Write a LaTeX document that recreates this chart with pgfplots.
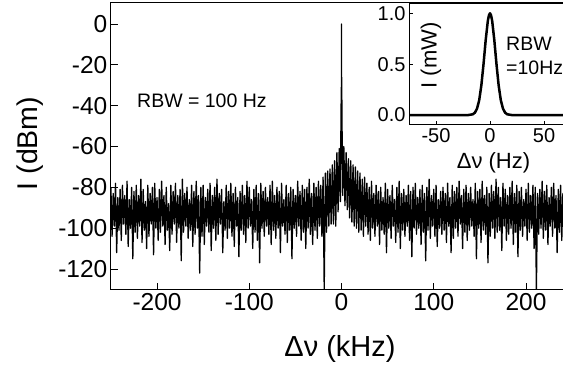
\documentclass[border=0pt]{standalone}
\usepackage{fontspec}
\setmainfont{Liberation Sans}
\usepackage{pgfplots}
\pgfplotsset{compat=1.18}
\begin{document}
\begin{tikzpicture}
\begin{axis}[
 at={(110.9pt,76pt)}, anchor=south west,
 scale only axis, width=461.25pt, height=287pt,
 xmin=-250, xmax=250, ymin=-130.3, ymax=10.3,
 xtick={-200,-100,0,100,200}, xticklabels={-200,-100,0,100,200},
 ytick={-120,-100,-80,-60,-40,-20,0}, yticklabels={-120,-100,-80,-60,-40,-20,0},
 tick align=inside, tick pos=left, major tick length=7pt,
 tick style={line width=0.8pt, black},
 axis line style={line width=1pt},
 tick label style={font=\fontsize{24.5}{29}\selectfont},
 /pgf/number format/assume math mode=true,
]
\addplot[black, line width=1.3pt, line join=round] coordinates {
(-250,-80) (-248.75,-104) (-247.5,-83) (-246.25,-99) (-245,-78) (-243.75,-112) (-242.5,-85) (-241.25,-101)
(-240,-81) (-238.75,-106) (-237.5,-79) (-236.25,-98) (-235,-84) (-233.75,-103) (-232.5,-77) (-231.25,-109)
(-230,-86) (-228.75,-100) (-227.5,-80) (-226.25,-115) (-225,-82) (-223.75,-102) (-222.5,-79) (-221.25,-105)
(-220,-84) (-218.75,-99) (-217.5,-76) (-216.25,-107) (-215,-81) (-213.75,-101) (-212.5,-87) (-211.25,-110)
(-210,-79) (-208.75,-104) (-207.5,-83) (-206.25,-98) (-205,-80) (-203.75,-113) (-202.5,-78) (-201.25,-100)
(-200,-85) (-198.75,-106) (-197.5,-81) (-196.25,-102) (-195,-77) (-193.75,-99) (-192.5,-84) (-191.25,-108)
(-190,-80) (-188.75,-101) (-187.5,-88) (-186.25,-111) (-185,-79) (-183.75,-103) (-182.5,-82) (-181.25,-98)
(-180,-78) (-178.75,-107) (-177.5,-84) (-176.25,-100) (-175,-81) (-173.75,-116) (-172.5,-76) (-171.25,-102)
(-170,-83) (-168.75,-99) (-167.5,-80) (-166.25,-105) (-165,-86) (-163.75,-101) (-162.5,-79) (-161.25,-109)
(-160,-82) (-158.75,-103) (-157.5,-77) (-156.25,-100) (-155,-84) (-153.75,-122) (-152.5,-80) (-151.25,-104)
(-150,-79) (-148.75,-108) (-147.5,-85) (-146.25,-99) (-145,-81) (-143.75,-102) (-142.5,-78) (-141.25,-111)
(-140,-84) (-138.75,-100) (-137.5,-80) (-136.25,-106) (-135,-76) (-133.75,-103) (-132.5,-83) (-131.25,-98)
(-130,-81) (-128.75,-112) (-127.5,-87) (-126.25,-101) (-125,-79) (-123.75,-105) (-122.5,-82) (-121.25,-100)
(-120,-78) (-118.75,-104) (-117.5,-83) (-116.25,-109) (-115,-80) (-113.75,-99) (-112.5,-85) (-111.25,-114)
(-110,-82) (-108.75,-101) (-107.5,-79) (-106.25,-103) (-105,-84) (-103.75,-107) (-102.5,-77) (-101.25,-100)
(-100,-80) (-98.75,-99) (-97.5,-86) (-96.25,-110) (-95,-81) (-93.75,-102) (-92.5,-79) (-91.25,-106)
(-90,-83) (-88.75,-117) (-87.5,-78) (-86.25,-100) (-85,-82) (-83.75,-104) (-82.5,-80) (-81.25,-99)
(-80,-85) (-78.75,-103) (-77.5,-79) (-76.25,-108) (-75,-77) (-73.75,-101) (-72.5,-84) (-71.25,-105)
(-70,-80) (-68.75,-100) (-67.5,-82) (-66.25,-112) (-65,-78) (-63.75,-99) (-62.5,-86) (-61.25,-103)
(-60,-79) (-58.75,-107) (-57.5,-83) (-56.25,-101) (-55,-80) (-53.75,-115) (-52.5,-81) (-51.25,-100)
(-50,-84) (-48.75,-104) (-47.5,-77) (-46.25,-99) (-45,-82) (-43.75,-106) (-42.5,-79) (-41.25,-102)
(-40,-81) (-38.75,-110) (-37.5,-80) (-36.25,-100) (-35,-76) (-33.75,-103) (-32.5,-83) (-31.25,-108)
(-30,-78) (-28.75,-101) (-27.5,-80) (-26.25,-105) (-25,-77) (-23.75,-99) (-22.5,-79) (-21.25,-104)
(-20,-75) (-18.75,-130) (-17.5,-73) (-16.25,-102) (-15,-72) (-13.75,-99) (-12.5,-71) (-11.25,-98)
(-10,-69) (-8.75,-98) (-7.5,-67) (-6.25,-99) (-5,-63) (-3.75,-92) (-2.5,-61) (-1.25,-87)
(-0.75,-56) (-0.5,-44) (-0.25,-31) (-0.1,-33) (0,0) (0.1,-31) (0.25,-30) (0.5,-47) (0.75,-58)
(1.25,-84) (2.5,-60) (3.75,-89) (5,-63) (6.25,-91) (7.5,-66) (8.75,-95)
(10,-67) (11.25,-97) (12.5,-69) (13.75,-99) (15,-70) (16.25,-100) (17.5,-72) (18.75,-102)
(20,-73) (21.25,-101) (22.5,-76) (23.75,-104) (25,-75) (26.25,-99) (27.5,-78) (28.75,-103)
(30,-80) (31.25,-106) (32.5,-77) (33.75,-100) (35,-83) (36.25,-104) (37.5,-79) (38.75,-99)
(40,-82) (41.25,-108) (42.5,-80) (43.75,-101) (45,-85) (46.25,-103) (47.5,-78) (48.75,-112)
(50,-81) (51.25,-100) (52.5,-84) (53.75,-105) (55,-79) (56.25,-99) (57.5,-86) (58.75,-107)
(60,-80) (61.25,-102) (62.5,-77) (63.75,-110) (65,-83) (66.25,-101) (67.5,-81) (68.75,-104)
(70,-84) (71.25,-99) (72.5,-79) (73.75,-106) (75,-82) (76.25,-114) (77.5,-80) (78.75,-100)
(80,-78) (81.25,-103) (82.5,-85) (83.75,-100) (85,-81) (86.25,-108) (87.5,-79) (88.75,-102)
(90,-83) (91.25,-116) (92.5,-80) (93.75,-101) (95,-76) (96.25,-105) (97.5,-84) (98.75,-99)
(100,-81) (101.25,-104) (102.5,-79) (103.75,-109) (105,-86) (106.25,-100) (107.5,-82) (108.75,-103)
(110,-80) (111.25,-101) (112.5,-83) (113.75,-107) (115,-78) (116.25,-99) (117.5,-85) (118.75,-112)
(120,-79) (121.25,-105) (122.5,-82) (123.75,-100) (125,-80) (126.25,-104) (127.5,-77) (128.75,-98)
(130,-84) (131.25,-110) (132.5,-81) (133.75,-102) (135,-79) (136.25,-106) (137.5,-83) (138.75,-101)
(140,-80) (141.25,-99) (142.5,-86) (143.75,-104) (145,-78) (146.25,-115) (147.5,-82) (148.75,-100)
(150,-81) (151.25,-107) (152.5,-77) (153.75,-101) (155,-84) (156.25,-103) (157.5,-80) (158.75,-117)
(160,-83) (161.25,-104) (162.5,-79) (163.75,-100) (165,-82) (166.25,-105) (167.5,-76) (168.75,-102)
(170,-80) (171.25,-101) (172.5,-85) (173.75,-111) (175,-78) (176.25,-99) (177.5,-81) (178.75,-106)
(180,-84) (181.25,-103) (182.5,-80) (183.75,-100) (185,-77) (186.25,-108) (187.5,-83) (188.75,-102)
(190,-79) (191.25,-114) (192.5,-82) (193.75,-101) (195,-80) (196.25,-104) (197.5,-86) (198.75,-99)
(200,-81) (201.25,-106) (202.5,-78) (203.75,-102) (205,-84) (206.25,-100) (207.5,-79) (208.75,-110)
(210,-80) (211.25,-130) (212.5,-83) (213.75,-103) (215,-81) (216.25,-100) (217.5,-77) (218.75,-105)
(220,-82) (221.25,-101) (222.5,-79) (223.75,-108) (225,-85) (226.25,-99) (227.5,-80) (228.75,-104)
(230,-78) (231.25,-100) (232.5,-84) (233.75,-112) (235,-81) (236.25,-102) (237.5,-79) (238.75,-106)
(240,-83) (241.25,-99) (242.5,-80) (243.75,-104) (245,-82) (246.25,-110) (247.5,-78) (248.75,-101)
(250,-81)
};
\end{axis}
\begin{axis}[
 at={(409pt,241pt)}, anchor=south west,
 scale only axis, width=162pt, height=121pt,
 xmin=-75, xmax=75, ymin=-0.098, ymax=1.091,
 xtick={-50,0,50}, xticklabels={-50,0,50},
 ytick={0,0.5,1}, yticklabels={0.0,0.5,1.0},
 tick align=inside, tick pos=left, major tick length=4pt,
 tick style={line width=0.8pt, black},
 axis background/.style={fill=white},
 axis line style={line width=1pt},
 tick label style={font=\fontsize{20}{24}\selectfont},
]
\addplot[black, line width=2.5pt, line join=round] coordinates {
(-75,0) (-20,0) (-16,0.007) (-14,0.023) (-12,0.063) (-10,0.146) (-8,0.292) (-6,0.5) (-4,0.735) (-2,0.926) (-1,0.98) (0,1.0)
(1,0.98) (2,0.926) (4,0.735) (6,0.5) (8,0.292) (10,0.146) (12,0.063) (14,0.023) (16,0.007) (20,0) (75,0)
};
\end{axis}
\node[rotate=90, font=\fontsize{28.5}{32}\selectfont] at (30pt,222.5pt) {I (dBm)};
\node[font=\fontsize{29}{33}\selectfont] at (340pt,17pt) {Δν (kHz)};
\node[anchor=base west, inner sep=0pt, font=\fontsize{19.5}{23}\selectfont] at (137pt,258pt) {RBW = 100 Hz};
\node[rotate=90, font=\fontsize{22}{26}\selectfont] at (431pt,310.5pt) {I (mW)};
\node[font=\fontsize{22}{26}\selectfont] at (493.5pt,203pt) {Δν (Hz)};
\node[anchor=base west, inner sep=0pt, font=\fontsize{19.5}{23}\selectfont] at (506pt,315pt) {RBW};
\node[anchor=base west, inner sep=0pt, font=\fontsize{19.5}{23}\selectfont] at (506pt,291pt) {=10Hz};
\pgfresetboundingbox
\path[use as bounding box] (0,0) rectangle (563pt,366pt);
\end{tikzpicture}
\end{document}
